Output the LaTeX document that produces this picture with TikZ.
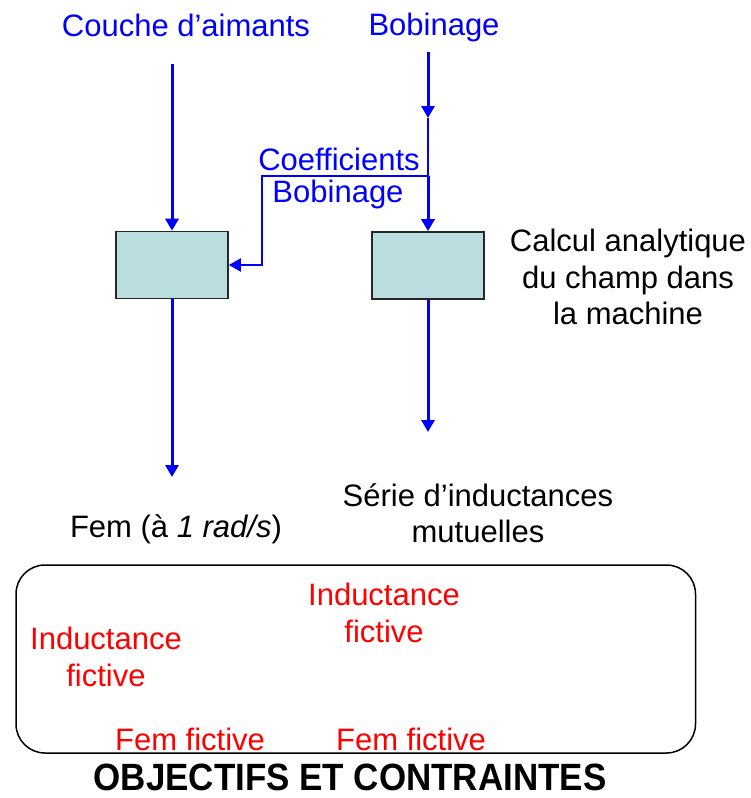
\documentclass[tikz,border=0pt]{standalone}
\usepackage{fontspec}
\setmainfont{Liberation Sans}
\usetikzlibrary{arrows.meta}
\definecolor{boxfill}{RGB}{186,222,224}
\definecolor{myblue}{RGB}{0,0,255}
\definecolor{myred}{RGB}{255,0,0}
\tikzset{
  lbl/.style={inner sep=0pt, font=\fontsize{31}{36.5}\selectfont, align=center},
  bluelbl/.style={lbl, text=myblue},
  redlbl/.style={lbl, text=myred},
  blacklbl/.style={lbl, text=black},
  calcbox/.style={draw=black!85, line width=1.6pt, fill=boxfill, minimum width=112pt, minimum height=67pt, inner sep=0pt},
  thickarr/.style={draw=myblue, line width=3pt, -{Triangle[length=12pt,width=13pt]}},
  thinline/.style={draw=myblue, line width=2pt},
  thinarr/.style={draw=myblue, line width=2pt, -{Triangle[length=12pt,width=13pt]}},
}
\begin{document}
\begin{tikzpicture}[x=1pt,y=-1pt]
\useasboundingbox (0,0) rectangle (751,798);
% texts
\node[bluelbl] (aim) at (186,25) {Couche d’aimants};
\node[bluelbl] (bob) at (434,27) {Bobinage};
\node[bluelbl] (coef) at (339,159) {Coefficients};
\node[bluelbl] (coefb) at (338,194) {Bobinage};
\node[blacklbl] (calc) at (628,277) {Calcul analytique\\du champ dans\\la machine};
\node[blacklbl] (fem) at (176,529) {Fem (à \textit{1 rad/s})};
\node[blacklbl] (serie) at (478,513) {Série d’inductances\\mutuelles};
% boxes
\node[calcbox] (lbox) at (172,265) {};
\node[calcbox] (rbox) at (428,265.5) {};
% coordinates
\coordinate (aimtop) at (172,64);
\coordinate (bobtop) at (428,52);
\coordinate (bobmid) at (428,118);
\coordinate (junc) at (428,176);
\coordinate (bend) at (262,176);
\coordinate (lout) at (172,477);
\coordinate (rout) at (428,432);
% connectors
\draw[thickarr] (aimtop) -- (lbox.north);
\draw[thickarr] (bobtop) -- (bobmid);
\draw[thinline] (bobmid) -- (junc);
\draw[thickarr] (junc) -- (rbox.north);
\draw[thinarr] (junc) -- (bend) |- (lbox.east);
\draw[thickarr] (lbox.south) -- (lout);
\draw[thickarr] (rbox.south) -- (rout);
% objectives frame
\draw[black, line width=1.5pt, rounded corners=29pt] (16,565) rectangle (695.5,753);
\node[redlbl] (ind1) at (106,657) {Inductance\\fictive};
\node[redlbl] (ind2) at (384,613) {Inductance\\fictive};
\node[redlbl] (fem1) at (190,739) {Fem fictive};
\node[redlbl] (fem2) at (411,739) {Fem fictive};
\node[inner sep=0pt, anchor=base, xscale=0.92] (obj) at (350,790) {\fontsize{38}{42}\selectfont\bfseries OBJECTIFS ET CONTRAINTES};
\end{tikzpicture}
\end{document}
